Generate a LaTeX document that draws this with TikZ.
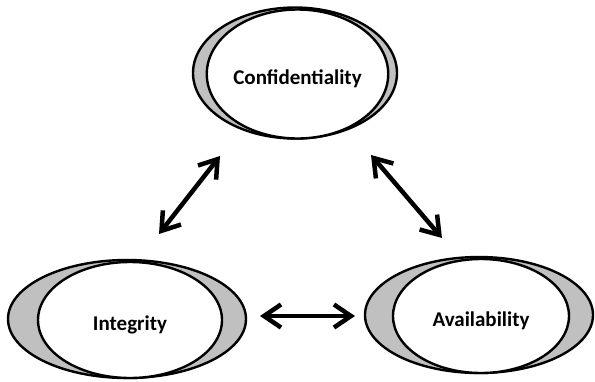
\documentclass[tikz,border=0pt]{standalone}
\usepackage{fontspec}
\setmainfont{Carlito}
\usetikzlibrary{shapes.geometric,arrows.meta}

\tikzset{
  ring/.style={ellipse,draw=black,line width=2.4pt,fill=shade,inner sep=0pt},
  core/.style={ellipse,draw=black,line width=2.4pt,fill=white,inner sep=0pt,
    text height=20pt,text depth=0pt,
    font=\fontsize{21}{24}\selectfont\bfseries},
  link/.style={line width=4.5pt,line cap=round,line join=round,
    {Straight Barb[length=17pt,width=23pt]}-{Straight Barb[length=17pt,width=23pt]}}
}
\definecolor{shade}{RGB}{192,192,192}

\begin{document}
\begin{tikzpicture}
  [x=1pt,y=-1pt]
  \useasboundingbox (0,0) rectangle (595,381);

  % confidentiality
  \node[ring,minimum width=204pt,minimum height=131pt] (conf-o) at (295,73) {};
  \node[core,minimum width=171pt,minimum height=129pt] (conf) at (297.5,74) {Confidentiality};

  % integrity
  \node[ring,minimum width=238pt,minimum height=118pt] (integ-o) at (127,319) {};
  \node[core,minimum width=184pt,minimum height=116pt] (integ) at (130,320) {Integrity};

  % availability
  \node[ring,minimum width=228pt,minimum height=116pt] (avail-o) at (479,315) {};
  \node[core,minimum width=176pt,minimum height=114pt] (avail) at (481,316) {Availability};

  \coordinate (ic) at (159,234);
  \coordinate (ci) at (220,156);
  \coordinate (ca) at (371,155);
  \coordinate (ac) at (442,238);
  \coordinate (ia) at (260,316);
  \coordinate (ai) at (355,316);

  \draw[link] (ic) -- (ci);
  \draw[link] (ca) -- (ac);
  \draw[link] (ia) -- (ai);

\end{tikzpicture}
\end{document}
